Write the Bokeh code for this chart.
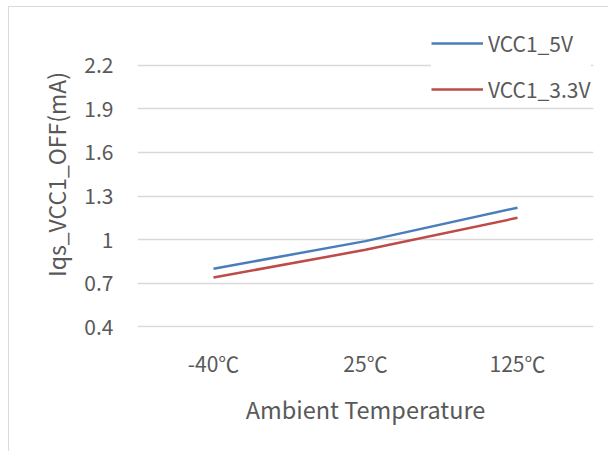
from bokeh.plotting import figure
from bokeh.models import Range1d, FixedTicker, NumeralTickFormatter, Legend, LegendItem
from bokeh.embed import file_html
from bokeh.resources import INLINE

categories = ["-40℃", "25℃", "125℃"]
vcc1_5v = [0.80, 0.99, 1.22]
vcc1_3v3 = [0.74, 0.93, 1.15]
y_ticks = [0.4, 0.7, 1.0, 1.3, 1.6, 1.9, 2.2]

FONT = "Noto Sans CJK SC"
TXT = "#595959"

p = figure(width=600, height=445, x_range=categories, y_range=Range1d(0.396, 2.5),
           output_backend="svg", toolbar_location=None,
           min_border_left=128, min_border_right=16, min_border_top=14, min_border_bottom=125)
p.styles = {"margin-left": "8px", "margin-top": "6px",
            "border-left": "1px solid #d9d9d9", "border-top": "1px solid #d9d9d9"}
p.outline_line_color = None
p.background_fill_color = "white"
p.border_fill_color = "white"

p.xgrid.grid_line_color = None
p.ygrid.grid_line_color = "#d9d9d9"
p.ygrid.grid_line_width = 1.3
p.ygrid.ticker = FixedTicker(ticks=y_ticks)

p.yaxis.ticker = FixedTicker(ticks=y_ticks)
p.yaxis.formatter = NumeralTickFormatter(format="0.[0]")
for ax in (p.xaxis[0], p.yaxis[0]):
    ax.axis_line_color = None
    ax.major_tick_line_color = None
    ax.minor_tick_line_color = None
    ax.major_tick_out = 0
    ax.major_tick_in = 0
    ax.major_label_text_font = FONT
    ax.major_label_text_color = TXT
    ax.major_label_text_font_size = "21px"
    ax.axis_label_text_font = FONT
    ax.axis_label_text_color = TXT
    ax.axis_label_text_font_style = "normal"

p.yaxis.major_label_standoff = 24
p.yaxis.axis_label = "Iqs_VCC1_OFF(mA)"
p.yaxis.axis_label_standoff = 8
p.yaxis.axis_label_text_font_size = "23px"
p.xaxis.major_label_standoff = 20
p.xaxis.axis_label = "Ambient Temperature"
p.xaxis.axis_label_standoff = 11
p.xaxis.axis_label_text_font_size = "23.5px"

r1 = p.line(categories, vcc1_5v, line_color="#4a7ebb", line_width=2.5)
r2 = p.line(categories, vcc1_3v3, line_color="#be4b48", line_width=2.5)

legend = Legend(items=[LegendItem(label="VCC1_5V", renderers=[r1]),
                       LegendItem(label="VCC1_3.3V", renderers=[r2])],
                location=(294, 222))
legend.padding = 12
legend.margin = 0
legend.spacing = 14
legend.glyph_width = 52
legend.glyph_height = 32
legend.label_height = 32
legend.label_standoff = 5
legend.label_text_font = FONT
legend.label_text_font_size = "21px"
legend.label_text_color = TXT
legend.border_line_color = None
legend.background_fill_color = "white"
legend.background_fill_alpha = 1.0
p.add_layout(legend, "center")

open("out.html", "w").write(file_html(p, INLINE))
